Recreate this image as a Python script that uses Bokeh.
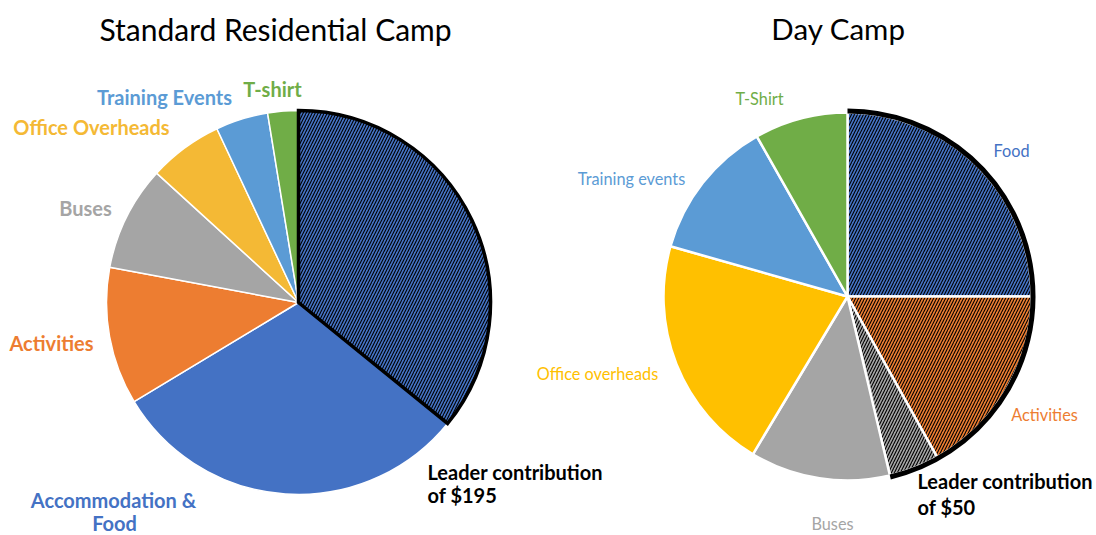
import numpy as np
import pandas as pd
from bokeh.plotting import figure
from bokeh.models import ColumnDataSource, Range1d
from bokeh.core.properties import value
from bokeh.embed import file_html
from bokeh.resources import INLINE

# ---------------- data ----------------
res_title = "Standard Residential Camp"
res_categories = ["Leader contribution", "Accommodation & Food", "Activities",
                  "Buses", "Office Overheads", "Training Events", "T-shirt"]
res_values = [195, 166, 63, 48, 34, 24, 14]
res_hatched = [True, False, False, False, False, False, False]

day_title = "Day Camp"
day_categories = ["Food", "Activities", "Leader contribution", "Buses",
                  "Office overheads", "Training events", "T-Shirt"]
day_values = [25.0, 16.9, 4.4, 12.3, 20.8, 12.4, 8.2]
day_hatched = [True, True, True, False, False, False, False]

leader_res_text = ["Leader contribution", "of $195"]
leader_day_text = ["Leader contribution", "of $50"]

# ---------------- styles / layout ----------------
BLUE, ORANGE, GREY = "#4472C4", "#ED7D31", "#A5A5A5"
res_colors = [BLUE, BLUE, ORANGE, GREY, "#F4B935", "#5B9BD5", "#70AD47"]
day_colors = [BLUE, ORANGE, GREY, GREY, "#FFC000", "#5B9BD5", "#70AD47"]

W, H = 1096, 535  # page pixels; y data = H - pixel y
FONT = "Lato"

res_center, res_r = (298, H - 302), 192
day_center, day_r = (847, H - 296), 184


def wedge_source(vals, cats, colors, hatched):
    df = pd.DataFrame({"cat": cats, "val": vals, "color": colors})
    tot = df["val"].sum()
    cum = df["val"].cumsum()
    df["end"] = np.pi / 2 - 2 * np.pi * cum / tot
    df["start"] = np.pi / 2 - 2 * np.pi * (cum - df["val"]) / tot
    df["hatch"] = ["/" if h else " " for h in hatched]
    return df


p = figure(width=W, height=H, x_range=Range1d(0, W), y_range=Range1d(0, H),
           output_backend="svg", toolbar_location=None, min_border=0)
p.axis.visible = False
p.grid.visible = False
p.outline_line_color = None
p.background_fill_color = "white"

HATCH = dict(hatch_color="black", hatch_scale=6, hatch_weight=1.1)

# ---- left pie ----
rdf = wedge_source(res_values, res_categories, res_colors, res_hatched)
plain = ColumnDataSource(rdf[~rdf["hatch"].eq("/")])
hat = ColumnDataSource(rdf[rdf["hatch"].eq("/")])
p.wedge(x=res_center[0], y=res_center[1], radius=res_r, start_angle="start", end_angle="end",
        direction="clock", fill_color="color", line_color="white", line_width=1.5, source=plain)
p.wedge(x=res_center[0], y=res_center[1], radius=res_r, start_angle="start", end_angle="end",
        direction="clock", fill_color="color", line_color="black", line_width=3.5,
        line_join="miter", hatch_pattern="hatch", source=hat, **HATCH)

# ---- right pie ----
ddf = wedge_source(day_values, day_categories, day_colors, day_hatched)
p.wedge(x=day_center[0], y=day_center[1], radius=day_r, start_angle="start", end_angle="end",
        direction="clock", fill_color="color", line_color="white", line_width=2.5,
        hatch_pattern="hatch", source=ColumnDataSource(ddf), **HATCH)
hat_end = ddf.loc[ddf["hatch"].eq("/"), "end"].min()
p.arc(x=day_center[0], y=day_center[1], radius=day_r + 1.5, start_angle=np.pi / 2,
      end_angle=hat_end, direction="clock", line_color="black", line_width=5)

# ---------------- texts ----------------
def txt(x, y, t, color, size, bold=False, align="center"):
    p.text(x=[x], y=[H - y], text=[t], text_color=color, text_font=value(FONT),
           text_font_size=size, text_font_style="bold" if bold else "normal",
           text_align=align, text_baseline="middle")

txt(275, 28, res_title, "black", "30px")
txt(838, 28, day_title, "black", "29.5px")

# left labels (bold)
lbl_res = {
    "T-shirt": (272, 88), "Training Events": (164, 96), "Office Overheads": (91, 126),
    "Buses": (85, 207), "Activities": (51, 342),
}
for i, c in enumerate(res_categories):
    if c in lbl_res:
        x, y = lbl_res[c]
        txt(x, y, c, res_colors[i], "20px", bold=True)
txt(113, 499, "Accommodation &", BLUE, "20px", bold=True)
txt(114, 522, "Food", BLUE, "20px", bold=True)
txt(427, 471, leader_res_text[0], "black", "20px", bold=True, align="left")
txt(427, 494, leader_res_text[1], "black", "20px", bold=True, align="left")

# right labels (regular)
lbl_day = {
    "T-Shirt": (759, 98), "Food": (1011, 150), "Training events": (631, 178),
    "Office overheads": (597, 373), "Activities": (1044, 414), "Buses": (832, 523),
}
for i, c in enumerate(day_categories):
    if c in lbl_day:
        x, y = lbl_day[c]
        txt(x, y, c, day_colors[i], "16.3px")
txt(917, 480, leader_day_text[0], "black", "20px", bold=True, align="left")
txt(917, 506, leader_day_text[1], "black", "20px", bold=True, align="left")

open("out.html", "w").write(file_html(p, INLINE))
